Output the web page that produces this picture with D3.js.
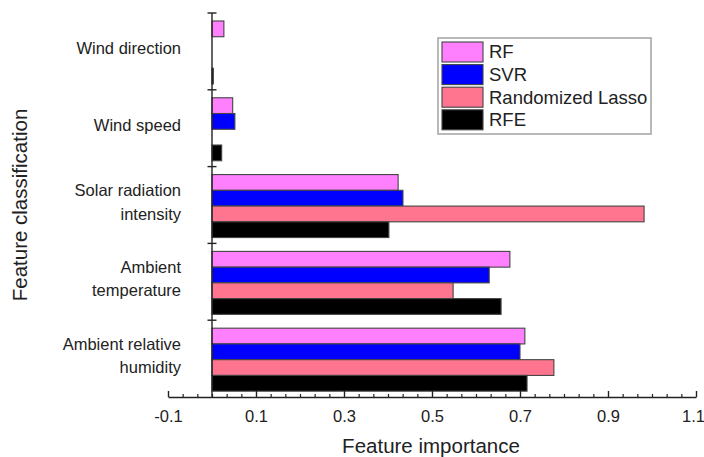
<!DOCTYPE html>
<html>
<head>
<meta charset="utf-8">
<script src="https://cdn.jsdelivr.net/npm/d3@7"></script>
<style>
  html, body { margin: 0; padding: 0; background: #fff; }
  svg { display: block; font-family: "Liberation Sans", Arial, sans-serif; }
</style>
</head>
<body>
<svg id="chart" width="704" height="457"></svg>
<script>
// ---- data ----
const categories = ["Wind direction", "Wind speed", "Solar radiation intensity", "Ambient temperature", "Ambient relative humidity"];
const categoryLines = [["Wind direction"], ["Wind speed"], ["Solar radiation", "intensity"], ["Ambient", "temperature"], ["Ambient relative", "humidity"]];
const seriesNames = ["RF", "SVR", "Randomized Lasso", "RFE"];
const seriesColors = ["#FF80FF", "#0000FF", "#FF7590", "#000000"];
const RF    = [0.027, 0.047, 0.423, 0.677, 0.711];
const SVR   = [0.000, 0.052, 0.434, 0.630, 0.700];
const RLasso= [0.000, 0.000, 0.982, 0.548, 0.777];
const RFE   = [0.003, 0.022, 0.402, 0.657, 0.716];
const seriesValues = [RF, SVR, RLasso, RFE];
const majorTicks = [-0.1, 0.1, 0.3, 0.5, 0.7, 0.9, 1.1];
const xTitle = "Feature importance";
const yTitle = "Feature classification";

// ---- layout ----
const svg = d3.select("#chart");
const x = d3.scaleLinear().domain([-0.1, 1.1]).range([168, 696]);
const y = d3.scaleBand().domain(categories).range([13, 397]).paddingInner(0).paddingOuter(0);
const bw = y.bandwidth();
const ySub = d3.scaleBand().domain(seriesNames).range([bw * 0.104, bw * 0.924]).padding(0);

const axisColor = "#222";
const textColor = "#222";

// bars
const rows = [];
categories.forEach((c, i) => {
  seriesNames.forEach((s, j) => {
    rows.push({ cat: c, series: s, value: seriesValues[j][i], color: seriesColors[j] });
  });
});
svg.append("g").selectAll("rect")
  .data(rows.filter(d => d.value !== 0))
  .join("rect")
  .attr("x", d => Math.min(x(0), x(d.value)))
  .attr("y", d => y(d.cat) + ySub(d.series))
  .attr("width", d => Math.abs(x(d.value) - x(0)))
  .attr("height", ySub.bandwidth())
  .attr("fill", d => d.color)
  .attr("stroke", "#444")
  .attr("stroke-width", 1.1);

// x axis (major)
const xAxisG = svg.append("g").attr("transform", "translate(0,397)");
xAxisG.call(d3.axisBottom(x).tickValues(majorTicks).tickSize(-6).tickSizeOuter(0).tickPadding(13.5).tickFormat(d => d.toFixed(1)));
xAxisG.select(".domain").attr("stroke", axisColor).attr("stroke-width", 1.4);
xAxisG.selectAll(".tick line").attr("stroke", axisColor).attr("stroke-width", 1.4);
xAxisG.selectAll(".tick text").attr("fill", textColor).attr("font-size", "16.5px")
  .attr("font-family", "'Liberation Sans', Arial, sans-serif")
  .attr("dx", d => d === 1.1 ? -3 : 0);

// x axis (minor)
const minorTicks = d3.range(0, 37).map(i => +(-0.1 + i / 30).toFixed(5)).filter(v => !majorTicks.some(m => Math.abs(m - v) < 1e-6));
const xMinorG = svg.append("g").attr("transform", "translate(0,397)");
xMinorG.call(d3.axisBottom(x).tickValues(minorTicks).tickSize(-3).tickSizeOuter(0).tickFormat(""));
xMinorG.select(".domain").remove();
xMinorG.selectAll(".tick line").attr("stroke", axisColor).attr("stroke-width", 1.2);

// y axis line and boundary ticks
const yAxisG = svg.append("g");
yAxisG.append("line")
  .attr("x1", x(0)).attr("x2", x(0))
  .attr("y1", y.range()[0]).attr("y2", y.range()[1])
  .attr("stroke", axisColor).attr("stroke-width", 1.4);
const boundaries = categories.map(c => y(c));
yAxisG.selectAll("line.bt").data(boundaries).join("line")
  .attr("class", "bt")
  .attr("x1", x(0) - 4.5).attr("x2", x(0) + 4.5)
  .attr("y1", d => d).attr("y2", d => d)
  .attr("stroke", axisColor).attr("stroke-width", 1.4);

// category labels
const labG = svg.append("g");
categories.forEach((c, i) => {
  const lines = categoryLines[i];
  const cy = y(c) + bw / 2 - 3;
  const lh = 23.5;
  const t = labG.append("text")
    .attr("text-anchor", "end")
    .attr("fill", textColor)
    .attr("font-size", "16.5px");
  lines.forEach((ln, k) => {
    t.append("tspan")
      .attr("x", 181)
      .attr("y", cy + (k - (lines.length - 1) / 2) * lh)
      .attr("dy", "0.35em")
      .text(ln);
  });
});

// axis titles
svg.append("text")
  .attr("x", 431).attr("y", 453)
  .attr("text-anchor", "middle")
  .attr("fill", textColor)
  .attr("font-size", "20.5px")
  .text(xTitle);
svg.append("text")
  .attr("transform", "translate(27,205) rotate(-90)")
  .attr("text-anchor", "middle")
  .attr("fill", textColor)
  .attr("font-size", "20.5px")
  .text(yTitle);

// legend
const lg = svg.append("g");
lg.append("rect")
  .attr("x", 438).attr("y", 38).attr("width", 213).attr("height", 96)
  .attr("fill", "#fff").attr("stroke", "#a8a8a8").attr("stroke-width", 1.6);
seriesNames.forEach((s, j) => {
  const top = 42 + j * 22.6;
  lg.append("rect")
    .attr("x", 442).attr("y", top).attr("width", 41).attr("height", 20)
    .attr("fill", seriesColors[j]).attr("stroke", "#444").attr("stroke-width", 1.1);
  lg.append("text")
    .attr("x", 489).attr("y", top + 10).attr("dy", "0.35em")
    .attr("fill", textColor)
    .attr("font-size", "18.5px")
    .text(s);
});
</script>
</body>
</html>
